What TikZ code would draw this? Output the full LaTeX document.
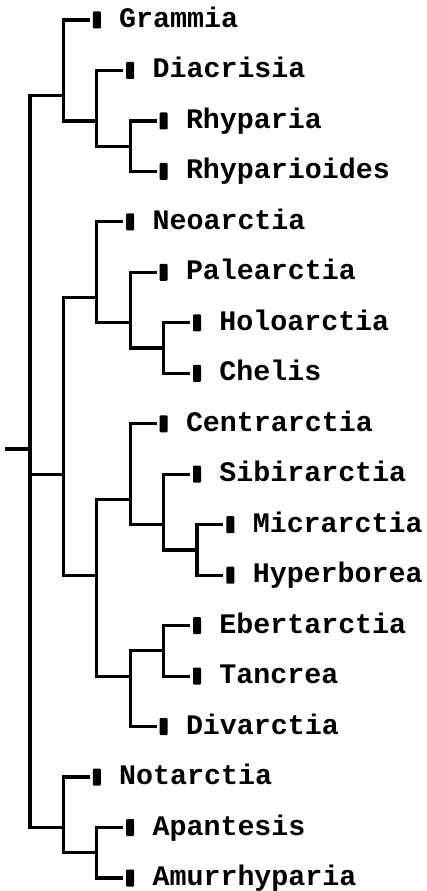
\documentclass[tikz,border=0pt]{standalone}
\usepackage{fontspec}
\usepackage{tikz}
\usetikzlibrary{positioning}
\newfontfamily\taxfont{Liberation Mono}

\begin{document}
\begin{tikzpicture}[
  x=33.4pt,y=-50.47pt,
  branch/.style={draw=black, line width=3.2pt, line cap=rect},
  tipbar/.style={fill=black, rounded corners=1pt, minimum width=8pt, minimum height=17pt, inner sep=0pt},
  taxon/.style={font=\taxfont\bfseries\fontsize{28.3}{30}\selectfont, inner sep=0pt, text height=15pt, text depth=0pt, anchor=west},
  tipedge/.style={branch, shorten >=4.5pt}
]
\useasboundingbox (-30pt,20pt) rectangle (397pt,-871pt);

% internal nodes: (depth, mean row of the leaves)
\coordinate (root) at (0,8.5);
\coordinate (stub) at ([xshift=-23pt]root);
\coordinate (A) at (1,1.5);
\coordinate (A2) at (2,2);
\coordinate (A3) at (3,2.5);
\coordinate (B) at (1,9);
\coordinate (B1) at (2,5.5);
\coordinate (B11) at (3,6);
\coordinate (B12) at (4,6.5);
\coordinate (B2) at (2,11);
\coordinate (B21) at (3,9.5);
\coordinate (B211) at (4,10);
\coordinate (B212) at (5,10.5);
\coordinate (B22) at (3,13);
\coordinate (B221) at (4,12.5);
\coordinate (C) at (1,16);
\coordinate (C2) at (2,16.5);

% leaves
\node[tipbar] (grammia) at (2,0) {};       \node[taxon, right=18pt of grammia] (t-grammia) {Grammia};
\node[tipbar] (diacrisia) at (3,1) {};     \node[taxon, right=18pt of diacrisia] (t-diacrisia) {Diacrisia};
\node[tipbar] (rhyparia) at (4,2) {};      \node[taxon, right=18pt of rhyparia] (t-rhyparia) {Rhyparia};
\node[tipbar] (rhyparioides) at (4,3) {};  \node[taxon, right=18pt of rhyparioides] (t-rhyparioides) {Rhyparioides};
\node[tipbar] (neoarctia) at (3,4) {};     \node[taxon, right=18pt of neoarctia] (t-neoarctia) {Neoarctia};
\node[tipbar] (palearctia) at (4,5) {};    \node[taxon, right=18pt of palearctia] (t-palearctia) {Palearctia};
\node[tipbar] (holoarctia) at (5,6) {};    \node[taxon, right=18pt of holoarctia] (t-holoarctia) {Holoarctia};
\node[tipbar] (chelis) at (5,7) {};        \node[taxon, right=18pt of chelis] (t-chelis) {Chelis};
\node[tipbar] (centrarctia) at (4,8) {};   \node[taxon, right=18pt of centrarctia] (t-centrarctia) {Centrarctia};
\node[tipbar] (sibirarctia) at (5,9) {};   \node[taxon, right=18pt of sibirarctia] (t-sibirarctia) {Sibirarctia};
\node[tipbar] (micrarctia) at (6,10) {};   \node[taxon, right=18pt of micrarctia] (t-micrarctia) {Micrarctia};
\node[tipbar] (hyperborea) at (6,11) {};   \node[taxon, right=18pt of hyperborea] (t-hyperborea) {Hyperborea};
\node[tipbar] (ebertarctia) at (5,12) {};  \node[taxon, right=18pt of ebertarctia] (t-ebertarctia) {Ebertarctia};
\node[tipbar] (tancrea) at (5,13) {};      \node[taxon, right=18pt of tancrea] (t-tancrea) {Tancrea};
\node[tipbar] (divarctia) at (4,14) {};    \node[taxon, right=18pt of divarctia] (t-divarctia) {Divarctia};
\node[tipbar] (notarctia) at (2,15) {};    \node[taxon, right=18pt of notarctia] (t-notarctia) {Notarctia};
\node[tipbar] (apantesis) at (3,16) {};    \node[taxon, right=18pt of apantesis] (t-apantesis) {Apantesis};
\node[tipbar] (amurrhyparia) at (3,17) {}; \node[taxon, right=18pt of amurrhyparia] (t-amurrhyparia) {Amurrhyparia};

% branches
\draw[branch] (stub) -- (root);
\draw[branch] (root) |- (A);
\draw[branch] (root) |- (B);
\draw[branch] (root) |- (C);
\draw[tipedge] (A) |- (grammia);
\draw[branch] (A) |- (A2);
\draw[tipedge] (A2) |- (diacrisia);
\draw[branch] (A2) |- (A3);
\draw[tipedge] (A3) |- (rhyparia);
\draw[tipedge] (A3) |- (rhyparioides);
\draw[branch] (B) |- (B1);
\draw[branch] (B) |- (B2);
\draw[tipedge] (B1) |- (neoarctia);
\draw[branch] (B1) |- (B11);
\draw[tipedge] (B11) |- (palearctia);
\draw[branch] (B11) |- (B12);
\draw[tipedge] (B12) |- (holoarctia);
\draw[tipedge] (B12) |- (chelis);
\draw[branch] (B2) |- (B21);
\draw[branch] (B2) |- (B22);
\draw[tipedge] (B21) |- (centrarctia);
\draw[branch] (B21) |- (B211);
\draw[tipedge] (B211) |- (sibirarctia);
\draw[branch] (B211) |- (B212);
\draw[tipedge] (B212) |- (micrarctia);
\draw[tipedge] (B212) |- (hyperborea);
\draw[branch] (B22) |- (B221);
\draw[tipedge] (B22) |- (divarctia);
\draw[tipedge] (B221) |- (ebertarctia);
\draw[tipedge] (B221) |- (tancrea);
\draw[tipedge] (C) |- (notarctia);
\draw[branch] (C) |- (C2);
\draw[tipedge] (C2) |- (apantesis);
\draw[tipedge] (C2) |- (amurrhyparia);
\end{tikzpicture}
\end{document}
